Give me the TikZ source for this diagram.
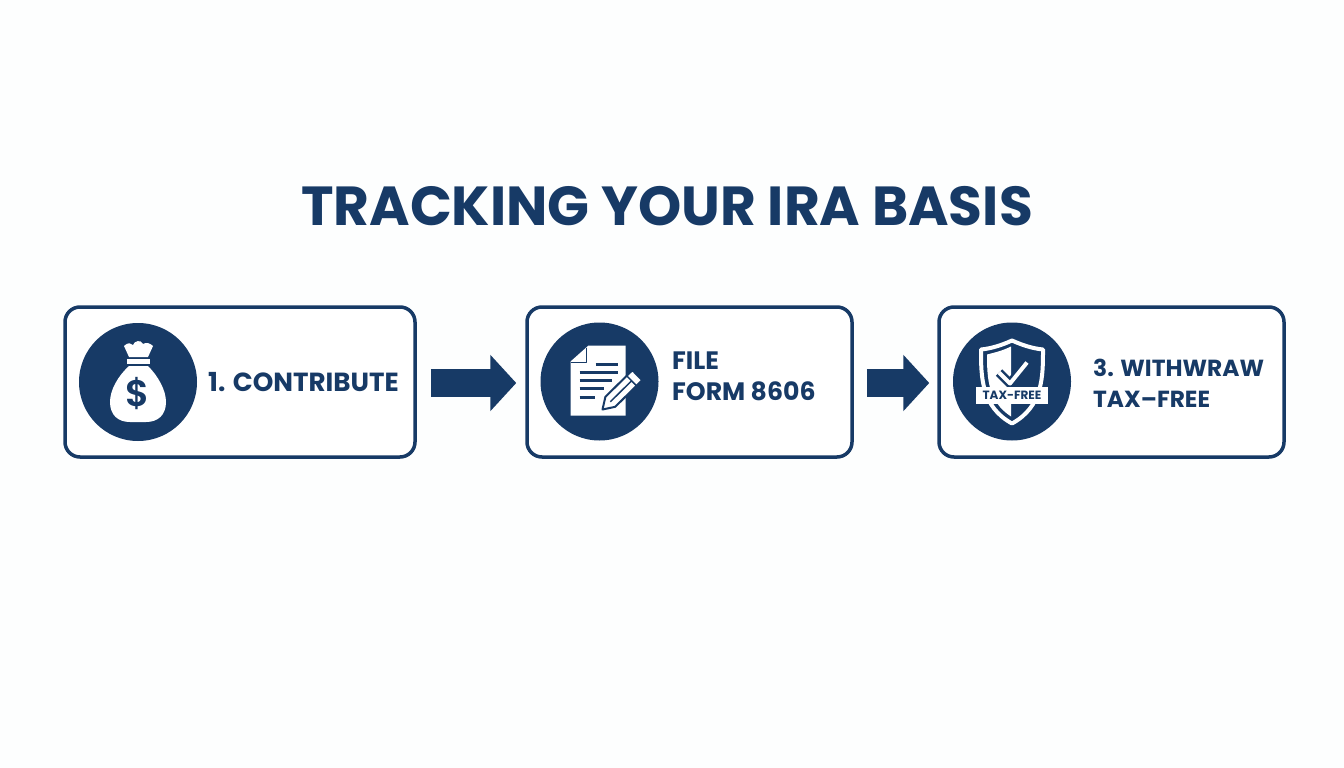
\documentclass[tikz,border=0pt]{standalone}
\usepackage{fontspec}
\setmainfont{Poppins}
\newfontfamily\semifont{Poppins SemiBold}
\usetikzlibrary{arrows.meta,positioning}
\definecolor{navy}{HTML}{173A66}
\definecolor{paper}{HTML}{FDFEFE}
\tikzset{
	stepbox/.style={draw=navy, line width=3.5pt, rounded corners=15pt, fill=white, minimum height=150pt, inner sep=0pt},
	iconback/.style={circle, fill=navy, minimum size=118pt, inner sep=0pt},
	steptext/.style={text=navy, align=left, anchor=west, inner sep=0pt},
	flow/.style={draw=navy, line width=28pt, -{Triangle[length=26pt,width=55pt]}}
}
\begin{document}
\begin{tikzpicture}[x=1pt, y=-1pt, line join=round, line cap=butt]
	\path[use as bounding box, fill=paper] (0,0) rectangle (1344,768);
	\node[text=navy, font=\fontsize{55}{60}\selectfont\bfseries, inner sep=0pt] (title) at (667,206) {TRACKING YOUR IRA BASIS};
	% boxes
	\node[stepbox, minimum width=350pt] (contribute) at (240,382) {};
	\node[stepbox, minimum width=325pt] (form) at (689.5,382) {};
	\node[stepbox, minimum width=345pt] (withdraw) at (1111.5,382) {};
	\draw[flow, shorten <=14pt, shorten >=9pt] ([yshift=-1pt]contribute.east) -- ([yshift=-1pt]form.west);
	\draw[flow, shorten <=13pt, shorten >=8pt] ([yshift=-1pt]form.east) -- ([yshift=-1pt]withdraw.west);
	% icon circles
	\node[iconback] (bag) at (138,382) {};
	\node[iconback] (doc) at (599.5,381.5) {};
	\node[iconback] (shield) at (1012,381.5) {};
	\node[steptext, font=\fontsize{26.2}{31}\selectfont\bfseries] (contributetext) at (208,382) {1. CONTRIBUTE};
	\node[steptext, font=\fontsize{25.2}{31}\selectfont\bfseries] (formtext) at (672,376.5) {FILE\\FORM 8606};
	\node[steptext, font=\fontsize{23.3}{31}\selectfont\bfseries] (withdrawtext) at (1093,383) {3. WITHWRAW\\TAX--FREE};
	% money bag
	\begin{scope}[shift={(bag.center)}]
		\fill[white] (-14,-36) .. controls (-10,-40) and (-7,-39) .. (-5,-37) .. controls (-4,-41) and (3,-43) .. (5,-38) .. controls (8,-40) and (12,-39) .. (15,-36) -- (10,-25) -- (-9,-25) -- cycle;
		\fill[white] (-11,-23) rectangle (12,-18);
		\fill[white] (-9,-16) -- (10,-16) .. controls (20,-6) and (28,8) .. (28,20) .. controls (28,33) and (20,40) .. (8,40) -- (-8,40) .. controls (-20,40) and (-28,33) .. (-28,20) .. controls (-28,8) and (-20,-6) .. (-9,-16) -- cycle;
		\node[text=navy, font=\fontsize{37}{37}\semifont, inner sep=0pt] (dollar) at (0,12) {\$};
	\end{scope}
	% form with pencil
	\begin{scope}[shift={(doc.center)}]
		\fill[white] (-11,-36) -- (26,-36) -- (26,34) -- (-29,34) -- (-29,-20) -- cycle;
		\draw[navy, line width=1.5pt] (-13,-34) -- (-13,-19) -- (-29,-19);
		\draw[navy, line width=2.5pt] (-4,-17) -- (18,-17) (-20,-9) -- (18,-9) (-20,-1) -- (12,-1) (-20,7) -- (4,7) (-20,16) -- (-5,16);
		\draw[navy, fill=white, line width=2pt] (3,28) -- (15.7,25.3) -- (42.7,-1.3) -- (32.9,-11.3) -- (5.9,15.3) -- cycle;
		\draw[navy, line width=1.5pt] (37,4.3) -- (27.2,-5.7) (10.8,20.3) -- (32.1,-.7);
	\end{scope}
	% shield
	\begin{scope}[shift={(shield.center)}]
		\draw[white, line width=4pt] (0,-41) .. controls (-11,-36) and (-21,-33) .. (-31,-32) .. controls (-31,-5) and (-31,25) .. (0,42) .. controls (31,25) and (31,-5) .. (31,-32) .. controls (21,-33) and (11,-36) .. (0,-41) -- cycle;
		\fill[white] (-1,-35) .. controls (-9,-31) and (-17,-29) .. (-25,-27) .. controls (-25,-3) and (-24,20) .. (-1,35) -- cycle;
		\draw[navy, line width=9pt] (-13,-9) -- (-2,2) -- (15,-19);
		\draw[white, line width=4pt] (-13,-9) -- (-2,2) -- (15,-19);
		\node[fill=white, text=navy, font=\fontsize{12}{12}\selectfont\bfseries, minimum width=72pt, minimum height=17.5pt, inner sep=0pt] (taxfree) at (0,14) {TAX-FREE};
	\end{scope}
\end{tikzpicture}
\end{document}
